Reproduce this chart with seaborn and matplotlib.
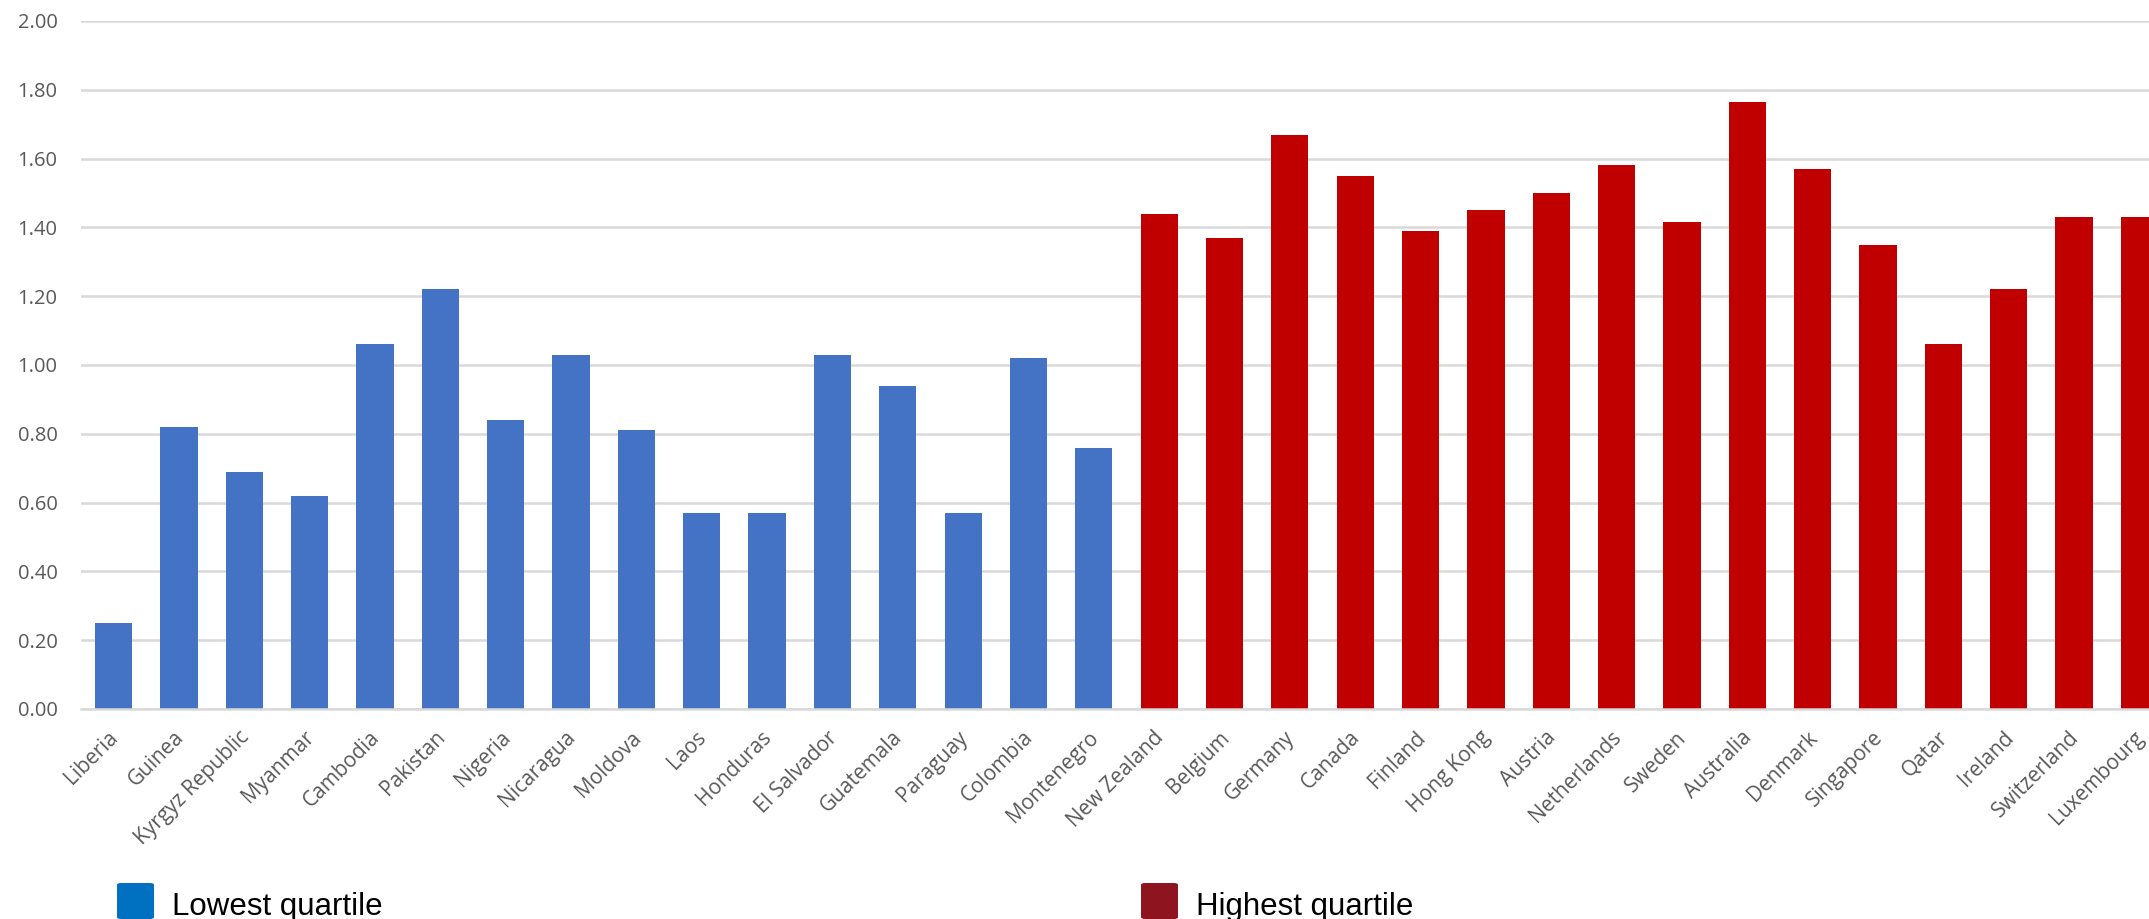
import pandas as pd
import matplotlib
matplotlib.use('Agg')
import matplotlib.pyplot as plt
import matplotlib.patches as mpatches
import matplotlib.transforms as mtransforms
import seaborn as sns

countries = ['Liberia', 'Guinea', 'Kyrgyz Republic', 'Myanmar', 'Cambodia', 'Pakistan',
             'Nigeria', 'Nicaragua', 'Moldova', 'Laos', 'Honduras', 'El Salvador',
             'Guatemala', 'Paraguay', 'Colombia', 'Montenegro',
             'New Zealand', 'Belgium', 'Germany', 'Canada', 'Finland', 'Hong Kong',
             'Austria', 'Netherlands', 'Sweden', 'Australia', 'Denmark', 'Singapore',
             'Qatar', 'Ireland', 'Switzerland', 'Luxembourg']
values = [0.25, 0.82, 0.69, 0.62, 1.06, 1.22, 0.84, 1.03, 0.81, 0.57, 0.57, 1.03,
          0.94, 0.57, 1.02, 0.76,
          1.44, 1.37, 1.67, 1.55, 1.39, 1.45, 1.50, 1.58, 1.415, 1.765, 1.57, 1.35,
          1.06, 1.22, 1.43, 1.43]
groups = ['Lowest quartile'] * 16 + ['Highest quartile'] * 16

df = pd.DataFrame({'country': countries, 'value': values, 'group': groups})

sns.set_style('white')
plt.rcParams['font.family'] = ['Open Sans', 'DejaVu Sans']

W, H = 2149, 919
fig = plt.figure(figsize=(W / 100, H / 100), dpi=100)
ax = fig.add_axes([81 / W, 1 - 709 / H, (2172 - 81) / W, (709 - 21) / H])

sns.barplot(data=df, x='country', y='value', hue='group',
            palette={'Lowest quartile': '#4472C4', 'Highest quartile': '#C00000'},
            saturation=1, dodge=False, width=0.57, legend=False, linewidth=0, ax=ax)

ax.set_ylim(0, 2.0)
ax.set_xlim(-0.5, len(countries) - 0.5)
ax.set_yticks([i / 5 for i in range(11)])
ax.set_yticklabels([f'{i / 5:.2f}' for i in range(11)], fontsize=14.5, color='#595959')
ax.yaxis.grid(True, color='#D9D9D9', linewidth=1.8)
ax.set_axisbelow(True)
for side in ['top', 'right', 'left']:
    ax.spines[side].set_visible(False)
ax.spines['bottom'].set_color('#D9D9D9')
ax.spines['bottom'].set_linewidth(1.8)
ax.tick_params(axis='both', length=0)
ax.tick_params(axis='y', pad=17)
ax.tick_params(axis='x', pad=13)
ax.set_xticks(range(len(countries)))
ax.set_xticklabels(countries, rotation=45, ha='right', va='top', rotation_mode='anchor',
                   fontsize=15, color='#595959')
shift = mtransforms.ScaledTranslation(-6 / 100, 0, fig.dpi_scale_trans)
for lab in ax.get_xticklabels():
    lab.set_transform(lab.get_transform() + shift)
ax.set_xlabel('')
ax.set_ylabel('')

# legend drawn as two separate entries along the bottom
for x0, col, label in [(117, '#0070C0', 'Lowest quartile'), (1141, '#8E1520', 'Highest quartile')]:
    fig.patches.append(mpatches.FancyBboxPatch(
        (x0 / W, 0), 37 / W, 36 / H, boxstyle='round,pad=0,rounding_size=0.002',
        transform=fig.transFigure, facecolor=col, edgecolor='none'))
    fig.text((x0 + 55) / W, 4 / H, label, fontsize=22.5, color='black',
             family=['Liberation Sans', 'DejaVu Sans'],
             va='baseline', ha='left')

fig.savefig('out.png', dpi=100)
